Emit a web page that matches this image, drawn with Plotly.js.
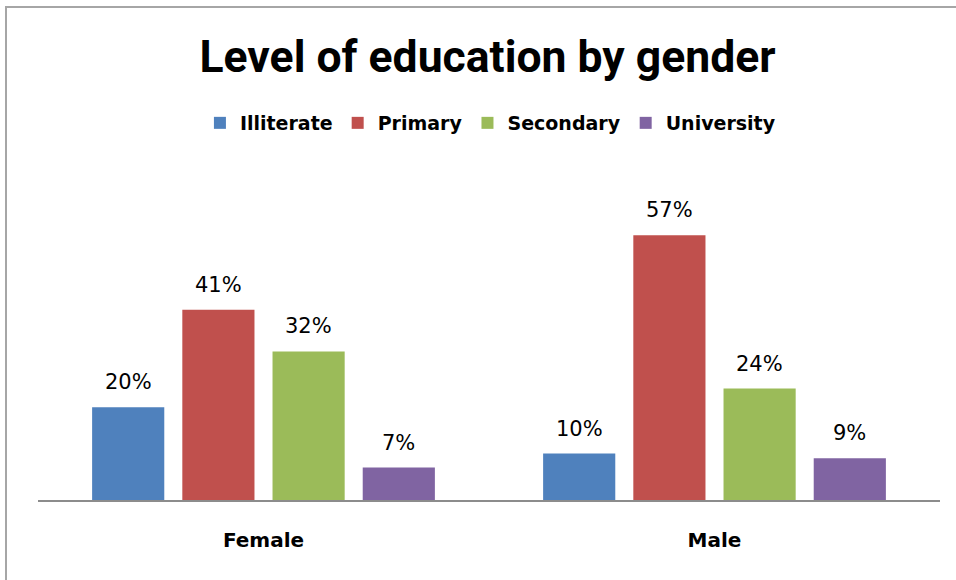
<!DOCTYPE html>
<html>
<head>
<meta charset="utf-8">
<script src="https://cdn.plot.ly/plotly-3.0.1.min.js"></script>
<style>
  html, body { margin: 0; padding: 0; background: #fff; }
  #wrap { position: relative; width: 956px; height: 580px; overflow: hidden; }
  #frame { position: absolute; left: 5px; top: 6px; width: 1000px; height: 700px;
           border-left: 2px solid #a6a6a6; border-top: 2px solid #a6a6a6; pointer-events: none; }
  #chart { position: absolute; left: 0; top: 0; width: 956px; height: 580px; }
</style>
</head>
<body>
<div id="wrap">
  <div id="chart"></div>
  <div id="frame"></div>
</div>
<script>
const categories = ["Female", "Male"];
const seriesNames = ["Illiterate", "Primary", "Secondary", "University"];
const illiterate = [20, 10];
const primary = [41, 57];
const secondary = [32, 24];
const university = [7, 9];
const colors = ["#4F81BD", "#C0504D", "#9BBB59", "#8064A2"];

const values = [illiterate, primary, secondary, university];

const W = 956, H = 580;
const margin = { l: 38, r: 16, t: 175, b: 80 };
const bargap = 0.2, bargroupgap = 0.2;
const plotW = W - margin.l - margin.r;
const slotPx = plotW / categories.length * (1 - bargap) / seriesNames.length;

const labelFont = { family: "DejaVu Sans, sans-serif", size: 21, color: "#000" };
const boldFont = { family: "DejaVu Sans, sans-serif", size: 19, color: "#000", weight: "bold" };
const tickFont = { family: "DejaVu Sans, sans-serif", size: 20, color: "#000", weight: "bold" };

const traces = seriesNames.map((name, i) => ({
  type: "bar",
  name: name,
  x: categories,
  y: values[i],
  marker: { color: colors[i] },
  hoverinfo: "skip"
}));

const annotations = [];
seriesNames.forEach((name, i) => {
  categories.forEach((cat, j) => {
    annotations.push({
      x: cat, y: values[i][j], xref: "x", yref: "y",
      text: values[i][j] + "%",
      showarrow: false,
      xanchor: "center", yanchor: "bottom",
      xshift: (i - (seriesNames.length - 1) / 2) * slotPx,
      yshift: 11,
      font: labelFont
    });
  });
});

const layout = {
  width: W,
  height: H,
  paper_bgcolor: "rgba(0,0,0,0)",
  plot_bgcolor: "rgba(0,0,0,0)",
  margin: margin,
  barmode: "group",
  bargap: bargap,
  bargroupgap: bargroupgap,
  title: {
    text: "Level of education by gender",
    font: { family: "Roboto, sans-serif", size: 44.5, weight: "bold", color: "#000" },
    x: 0.51, xanchor: "center",
    yref: "container", y: 1 - 56 / H, yanchor: "middle"
  },
  showlegend: true,
  legend: {
    orientation: "h",
    xref: "container", x: 0.513, xanchor: "center",
    yref: "container", y: 1 - 123 / H, yanchor: "middle",
    font: boldFont,
    itemwidth: 30,
    traceorder: "normal"
  },
  annotations: annotations,
  xaxis: {
    type: "category",
    showline: true,
    linecolor: "#8c8c8c",
    linewidth: 2,
    ticks: "",
    ticklabelstandoff: 21,
    tickfont: tickFont,
    showgrid: false,
    zeroline: false
  },
  yaxis: {
    range: [0, 70],
    visible: false,
    showgrid: false,
    zeroline: false
  }
};

Plotly.newPlot("chart", traces, layout, { staticPlot: true });
</script>
</body>
</html>
